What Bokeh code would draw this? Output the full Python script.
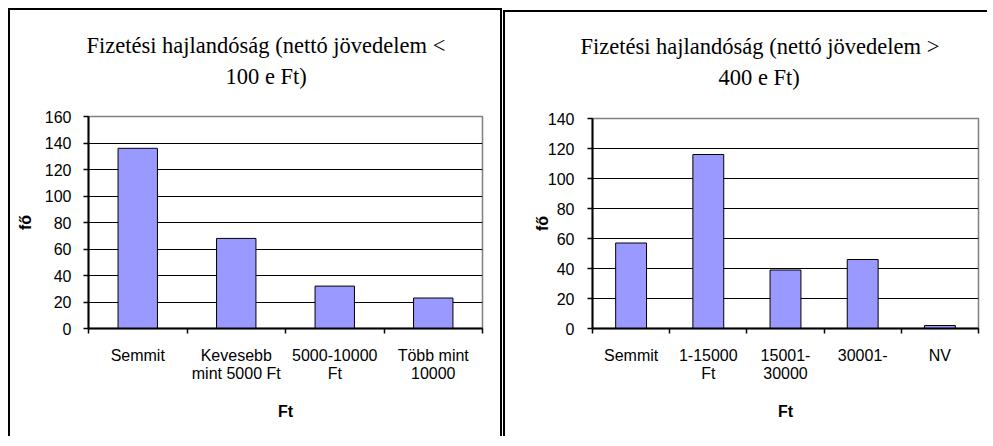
from bokeh.plotting import figure
from bokeh.models import FixedTicker, Title, Range1d
from bokeh.layouts import row
from bokeh.embed import file_html
from bokeh.resources import INLINE

# ---------------- data ----------------
left_categories = ["Semmit", "Kevesebb\nmint 5000 Ft", "5000-10000\nFt", "Több mint\n10000"]
left_values = [136, 68, 32, 23]
left_y_ticks = [0, 20, 40, 60, 80, 100, 120, 140, 160]
left_title = ["Fizetési hajlandóság (nettó jövedelem <", "100 e Ft)"]

right_categories = ["Semmit", "1-15000\nFt", "15001-\n30000", "30001-", "NV"]
right_values = [57, 116, 39, 46, 2]
right_y_ticks = [0, 20, 40, 60, 80, 100, 120, 140]
right_title = ["Fizetési hajlandóság (nettó jövedelem >", "400 e Ft)"]

x_axis_title = "Ft"
y_axis_title = "fő"

BAR = "#9999FF"
SANS = "Liberation Sans"
SERIF = "Liberation Serif"


def make_chart(cats, vals, yticks, W, H, ml, mr, mt, mb,
               styles, ytick_standoff, ylab_standoff):
    n = len(cats)
    ymax = yticks[-1]
    p = figure(width=W, height=H, x_range=Range1d(0, n), y_range=Range1d(0, ymax),
               output_backend="svg", toolbar_location=None,
               min_border_left=ml, min_border_right=mr,
               min_border_top=mt, min_border_bottom=mb)
    p.styles = styles
    xs = [i + 0.5 for i in range(n)]
    p.vbar(x=xs, top=vals, width=0.4, fill_color=BAR, line_color="black", line_width=1)

    # x axis
    xa = p.xaxis[0]
    xa.ticker = FixedTicker(ticks=xs, minor_ticks=list(range(n + 1)))
    xa.major_label_overrides = {x: c for x, c in zip(xs, cats)}
    xa.major_tick_out = 0
    xa.major_tick_in = 0
    xa.minor_tick_out = 5
    xa.minor_tick_in = 0
    xa.minor_tick_line_color = "black"
    xa.minor_tick_line_width = 1.5
    xa.axis_line_color = "black"
    xa.axis_line_width = 2
    xa.major_label_text_font = SANS
    xa.major_label_text_font_size = "16px"
    xa.major_label_text_color = "black"
    xa.major_label_text_line_height = 1.1
    xa.major_label_standoff = 13
    xa.axis_label = x_axis_title
    xa.axis_label_text_font = SANS
    xa.axis_label_text_font_style = "bold"
    xa.axis_label_text_font_size = "16px"
    xa.axis_label_text_color = "black"
    xa.axis_label_standoff = 18

    # y axis
    ya = p.yaxis[0]
    ya.ticker = FixedTicker(ticks=yticks, minor_ticks=[])
    ya.major_tick_out = 5
    ya.major_tick_in = 0
    ya.major_tick_line_color = "black"
    ya.major_tick_line_width = 1.5
    ya.minor_tick_out = 0
    ya.axis_line_color = "black"
    ya.axis_line_width = 2
    ya.major_label_text_font = SANS
    ya.major_label_text_font_size = "16px"
    ya.major_label_text_color = "black"
    ya.major_label_standoff = ytick_standoff
    ya.axis_label = y_axis_title
    ya.axis_label_text_font = SANS
    ya.axis_label_text_font_style = "bold"
    ya.axis_label_text_font_size = "16px"
    ya.axis_label_text_color = "black"
    ya.axis_label_standoff = ylab_standoff

    p.xgrid.visible = False
    p.ygrid[0].ticker = FixedTicker(ticks=yticks[1:-1])
    p.ygrid.grid_line_color = "black"
    p.ygrid.grid_line_width = 1.2
    p.outline_line_color = "#808080"
    p.outline_line_width = 1.5
    p.background_fill_color = "white"
    p.border_fill_color = "white"
    return p


def add_two_line_title(p, lines, offsets, standoffs):
    # lower line first (closest to the plot area), then the upper line
    p.add_layout(Title(text=lines[1], align="left", offset=offsets[1], vertical_align="bottom",
                       standoff=standoffs[1], text_font=SERIF, text_font_size="22.5px",
                       text_font_style="normal", text_color="black"), "above")
    p.add_layout(Title(text=lines[0], align="left", offset=offsets[0], vertical_align="bottom",
                       standoff=standoffs[0], text_font=SERIF, text_font_size="22.5px",
                       text_font_style="normal", text_color="black"), "above")


p1 = make_chart(left_categories, left_values, left_y_ticks,
                W=494, H=428, ml=78, mr=22, mt=106, mb=110,
                styles={"border-left": "2px solid black", "border-top": "2px solid black",
                        "border-right": "2px solid black",
                        "margin-left": "8px", "margin-top": "8px"},
                ytick_standoff=12, ylab_standoff=8)
add_two_line_title(p1, left_title, offsets=(-2, 137), standoffs=(-48, 56))

p2 = make_chart(right_categories, right_values, right_y_ticks,
                W=484, H=426, ml=87, mr=11, mt=105, mb=106,
                styles={"border-left": "2px solid black", "border-top": "2px solid black",
                        "margin-top": "10px"},
                ytick_standoff=13, ylab_standoff=-6)
add_two_line_title(p2, right_title, offsets=(-12, 126), standoffs=(-50, 58))

layout = row(p1, p2, spacing=1)
open("out.html", "w").write(file_html(layout, INLINE))
